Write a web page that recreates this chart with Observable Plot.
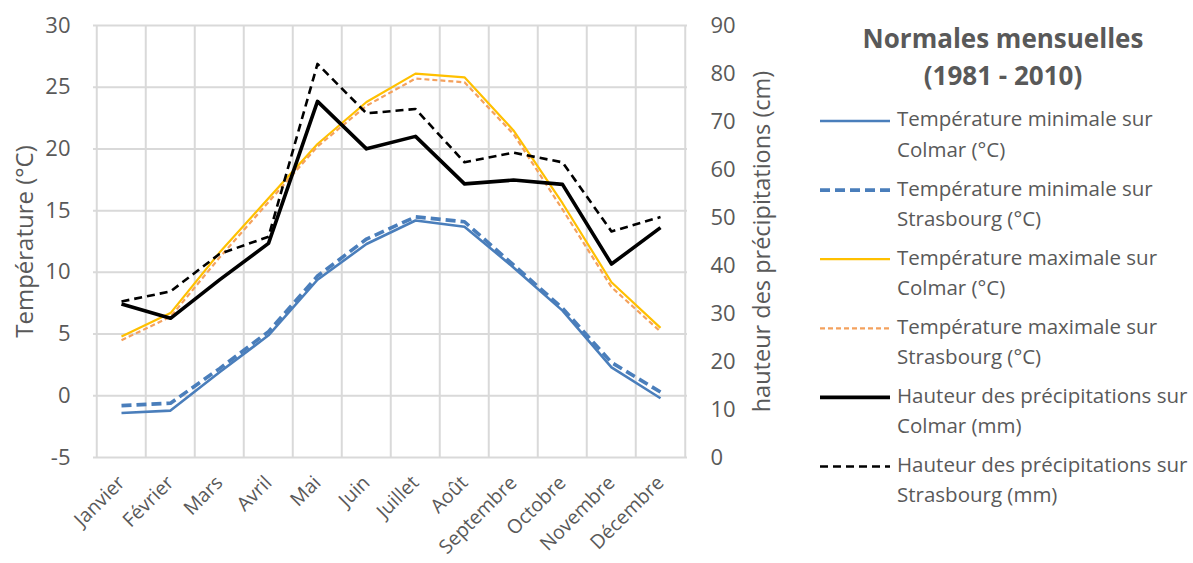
<!DOCTYPE html>
<html>
<head>
<meta charset="utf-8">
<script src="https://cdn.jsdelivr.net/npm/d3@7"></script>
<script src="https://cdn.jsdelivr.net/npm/@observablehq/plot@0.6"></script>
<style>
  body { margin: 0; background: #fff; }
  #wrap { position: relative; width: 1193px; height: 563px; font-family: "Open Sans", sans-serif; color: #595959; }
  #legend { position: absolute; left: 0; top: 0; }
</style>
</head>
<body>
<div id="wrap"></div>
<script>
// Monthly normals 1981–2010, Colmar and Strasbourg
const months = ["Janvier", "Février", "Mars", "Avril", "Mai", "Juin", "Juillet", "Août", "Septembre", "Octobre", "Novembre", "Décembre"];

const tminColmar      = [-1.4, -1.2, 1.9, 4.9, 9.4, 12.3, 14.2, 13.7, 10.4, 6.9, 2.3, -0.2];
const tminStrasbourg  = [-0.8, -0.6, 2.2, 5.2, 9.7, 12.7, 14.5, 14.1, 10.6, 7.1, 2.7, 0.3];
const tmaxColmar      = [4.8, 6.7, 11.6, 16.0, 20.4, 23.8, 26.1, 25.8, 21.5, 15.6, 9.2, 5.5];
const tmaxStrasbourg  = [4.5, 6.4, 11.2, 15.7, 20.2, 23.5, 25.7, 25.4, 21.2, 15.1, 8.8, 5.2];
const precipColmar     = [32.0, 29.0, 37.0, 44.6, 74.2, 64.3, 66.9, 57.0, 57.8, 56.9, 40.3, 47.9];
const precipStrasbourg = [32.5, 34.6, 42.4, 46.0, 82.0, 71.7, 72.6, 61.5, 63.5, 61.5, 47.1, 50.1];

const tempTicks   = [-5, 0, 5, 10, 15, 20, 25, 30];
const precipTicks = [0, 10, 20, 30, 40, 50, 60, 70, 80, 90];

const legendTitle = ["Normales mensuelles", "(1981 - 2010)"];
const labels = [
  ["Température minimale sur", "Colmar (°C)"],
  ["Température minimale sur", "Strasbourg (°C)"],
  ["Température maximale sur", "Colmar (°C)"],
  ["Température maximale sur", "Strasbourg (°C)"],
  ["Hauteur des précipitations sur", "Colmar (mm)"],
  ["Hauteur des précipitations sur", "Strasbourg (mm)"]
];

// Secondary axis (precipitation 0–90) mapped onto the temperature range (-5–30)
const T0 = -5, T1 = 30, P0 = 0, P1 = 90;
const toTemp = p => T0 + (p - P0) * (T1 - T0) / (P1 - P0);
const toPrecip = t => P0 + (t - T0) * (P1 - P0) / (T1 - T0);

const seriesData = [
  {values: tminColmar, secondary: false},
  {values: tminStrasbourg, secondary: false},
  {values: tmaxColmar, secondary: false},
  {values: tmaxStrasbourg, secondary: false},
  {values: precipColmar, secondary: true},
  {values: precipStrasbourg, secondary: true}
];

// Line styles, one per series
const styles = [
  {stroke: "#4a7ebb", strokeWidth: 2.6, strokeDasharray: null},
  {stroke: "#4a7ebb", strokeWidth: 3.6, strokeDasharray: "10,5"},
  {stroke: "#ffc000", strokeWidth: 2.2, strokeDasharray: null},
  {stroke: "#f4a15d", strokeWidth: 2.2, strokeDasharray: "5,3"},
  {stroke: "#000000", strokeWidth: 3.6, strokeDasharray: null},
  {stroke: "#000000", strokeWidth: 2.6, strokeDasharray: "8,5"}
];

const rows = seriesData.map(s => months.map((m, i) => ({
  month: m,
  y: s.secondary ? toTemp(s.values[i]) : s.values[i]
})));

const W = 1193, H = 563;
const mL = 93, mR = 506, mT = 25, mB = 106;
const step = (W - mL - mR) / months.length;
const grid = "#d9d9d9";
const ink = "#595959";

const chart = Plot.plot({
  width: W,
  height: H,
  marginLeft: mL,
  marginRight: mR,
  marginTop: mT,
  marginBottom: mB,
  style: {fontFamily: "'Open Sans', sans-serif", fontSize: "18px", color: ink, background: "transparent", overflow: "visible"},
  x: {type: "point", domain: months, padding: 0.5},
  y: {domain: [T0, T1]},
  marks: [
    Plot.gridY(tempTicks, {stroke: grid, strokeOpacity: 1, strokeWidth: 2}),
    Plot.ruleX(months, {x: d => d, dx: -step / 2, stroke: grid, strokeWidth: 2}),
    Plot.ruleX(months.slice(-1), {x: d => d, dx: step / 2, stroke: grid, strokeWidth: 2}),
    ...rows.map((r, i) => Plot.line(r, {x: "month", y: "y", ...styles[i], strokeLinejoin: "round", strokeLinecap: "butt"})),
    Plot.axisY({ticks: tempTicks, tickFormat: d => String(d), anchor: "left", tickSize: 0, tickPadding: 23, label: null, fontSize: 22}),
    Plot.axisY({ticks: precipTicks.map(toTemp), tickFormat: t => String(Math.round(toPrecip(t))), anchor: "right", tickSize: 0, tickPadding: 23, label: null, fontSize: 22}),
    Plot.axisX({tickRotate: -45, tickSize: 0, tickPadding: 22, label: null, fontSize: 19.5}),
    Plot.text(["Température (°C)"], {frameAnchor: "left", dx: -68, rotate: -90, textAnchor: "middle", fontSize: 24, fill: ink}),
    Plot.text(["hauteur des précipitations (cm)"], {frameAnchor: "right", dx: 75, rotate: -90, textAnchor: "middle", fontSize: 23.5, fill: ink})
  ]
});

const wrap = document.getElementById("wrap");
wrap.appendChild(chart);

// Legend panel on the right
const leg = d3.select(wrap).append("svg")
  .attr("id", "legend")
  .attr("width", W).attr("height", H)
  .style("font-family", "'Open Sans', sans-serif");

leg.selectAll("text.title").data(legendTitle).join("text")
  .attr("class", "title")
  .attr("x", 1003).attr("y", (d, i) => 41 + i * 37)
  .attr("text-anchor", "middle").attr("dominant-baseline", "middle")
  .attr("font-size", 26).attr("font-weight", "bold").attr("fill", ink)
  .text(d => d);

const item = leg.selectAll("g.item").data(labels).join("g")
  .attr("class", "item")
  .attr("transform", (d, i) => `translate(0,${121 + i * 69.1})`);

item.append("line")
  .attr("x1", 820).attr("x2", 890).attr("y1", 0).attr("y2", 0)
  .attr("stroke", (d, i) => styles[i].stroke)
  .attr("stroke-width", (d, i) => styles[i].strokeWidth)
  .attr("stroke-dasharray", (d, i) => styles[i].strokeDasharray);

item.selectAll("text").data(d => d).join("text")
  .attr("x", 897).attr("y", (d, j) => j * 30.5)
  .attr("dominant-baseline", "middle")
  .attr("font-size", 20.5).attr("fill", ink)
  .text(d => d);
</script>
</body>
</html>
